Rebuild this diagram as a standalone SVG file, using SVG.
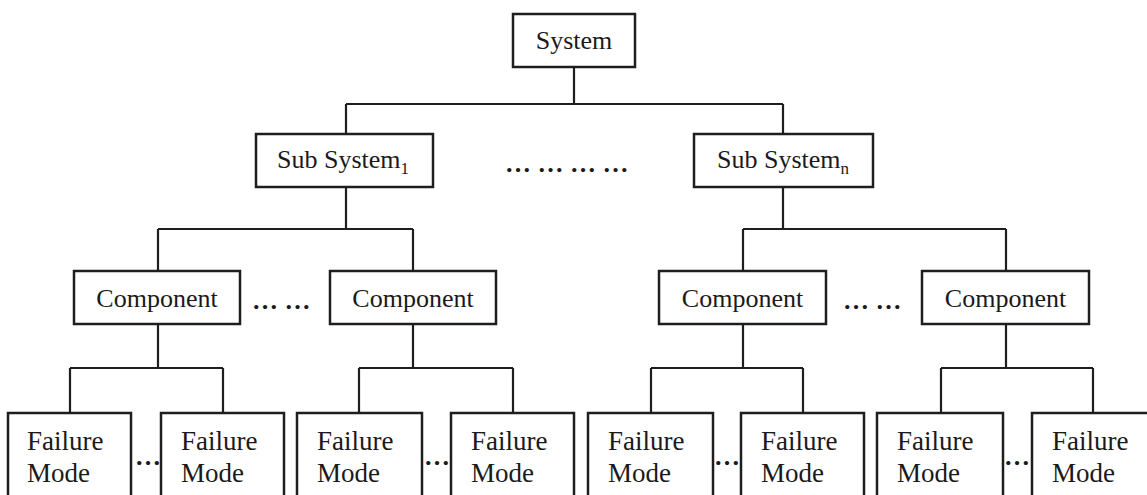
<svg xmlns="http://www.w3.org/2000/svg" width="1147" height="495" viewBox="0 0 1147 495">
  <style>
    .box { fill: #ffffff; stroke: #1e1e1e; stroke-width: 2.5; }
    .wire { fill: none; stroke: #1e1e1e; stroke-width: 2.2; }
    text { font-family: "Liberation Serif", "Times New Roman", Times, "DejaVu Serif", serif; font-size: 26px; fill: #1a1a1a; }
    .mid { text-anchor: middle; }
    .sub { font-size: 17px; }
    .fm { font-size: 27px; }
    .dots { font-weight: bold; }
  </style>
  <rect width="1147" height="495" fill="#ffffff"/>

  <!-- tree connectors -->
  <g id="connectors" class="wire">
    <path d="M574 67 V104 M346 104 H783 M346 104 V134 M783 104 V134"/>
    <path d="M346 187 V229 M158 229 H413 M158 229 V271 M413 229 V271"/>
    <path d="M783 187 V229 M743 229 H1006 M743 229 V271 M1006 229 V271"/>
    <path d="M158 324 V368 M70 368 H223 M70 368 V413 M223 368 V413"/>
    <path d="M413 324 V368 M359 368 H513 M359 368 V413 M513 368 V413"/>
    <path d="M743 324 V368 M651 368 H803 M651 368 V413 M803 368 V413"/>
    <path d="M1006 324 V368 M941 368 H1093 M941 368 V413 M1093 368 V413"/>
  </g>

  <g id="system">
    <rect class="box" x="513" y="14" width="122" height="53"/>
    <text class="mid" x="574" y="49">System</text>
  </g>

  <g id="subsystem-1">
    <rect class="box" x="256" y="134" width="177" height="53"/>
    <text x="277" y="168">Sub System<tspan class="sub" dy="6">1</tspan></text>
  </g>
  <g id="subsystem-n">
    <rect class="box" x="694" y="134" width="179" height="53"/>
    <text x="717" y="168">Sub System<tspan class="sub" dy="6">n</tspan></text>
  </g>
  <text class="dots" x="505" y="172">… … … …</text>

  <g id="component-1">
    <rect class="box" x="74" y="271" width="166" height="53"/>
    <text class="mid" x="157" y="307">Component</text>
  </g>
  <g id="component-2">
    <rect class="box" x="330" y="271" width="166" height="53"/>
    <text class="mid" x="413" y="307">Component</text>
  </g>
  <g id="component-3">
    <rect class="box" x="659" y="271" width="167" height="53"/>
    <text class="mid" x="742.5" y="307">Component</text>
  </g>
  <g id="component-4">
    <rect class="box" x="922" y="271" width="167" height="53"/>
    <text class="mid" x="1005.5" y="307">Component</text>
  </g>
  <text class="dots" x="252" y="309">… …</text>
  <text class="dots" x="843" y="309">… …</text>

  <!-- failure modes, bottom edge runs past the canvas -->
  <g id="failure-1">
    <rect class="box" x="8" y="413" width="123" height="100"/>
    <text class="fm" x="27" y="450">Failure</text>
    <text class="fm" x="27" y="482">Mode</text>
  </g>
  <g id="failure-2">
    <rect class="box" x="161" y="413" width="123" height="100"/>
    <text class="fm" x="181" y="450">Failure</text>
    <text class="fm" x="181" y="482">Mode</text>
  </g>
  <g id="failure-3">
    <rect class="box" x="297" y="413" width="125" height="100"/>
    <text class="fm" x="317" y="450">Failure</text>
    <text class="fm" x="317" y="482">Mode</text>
  </g>
  <g id="failure-4">
    <rect class="box" x="451" y="413" width="123" height="100"/>
    <text class="fm" x="471" y="450">Failure</text>
    <text class="fm" x="471" y="482">Mode</text>
  </g>
  <g id="failure-5">
    <rect class="box" x="588" y="413" width="125" height="100"/>
    <text class="fm" x="608" y="450">Failure</text>
    <text class="fm" x="608" y="482">Mode</text>
  </g>
  <g id="failure-6">
    <rect class="box" x="741" y="413" width="123" height="100"/>
    <text class="fm" x="761" y="450">Failure</text>
    <text class="fm" x="761" y="482">Mode</text>
  </g>
  <g id="failure-7">
    <rect class="box" x="877" y="413" width="126" height="100"/>
    <text class="fm" x="897" y="450">Failure</text>
    <text class="fm" x="897" y="482">Mode</text>
  </g>
  <g id="failure-8">
    <rect class="box" x="1032" y="413" width="124" height="100"/>
    <text class="fm" x="1052" y="450">Failure</text>
    <text class="fm" x="1052" y="482">Mode</text>
  </g>
  <text class="dots mid" x="148" y="465">…</text>
  <text class="dots mid" x="437" y="465">…</text>
  <text class="dots mid" x="727" y="465">…</text>
  <text class="dots mid" x="1017" y="465">…</text>
</svg>
